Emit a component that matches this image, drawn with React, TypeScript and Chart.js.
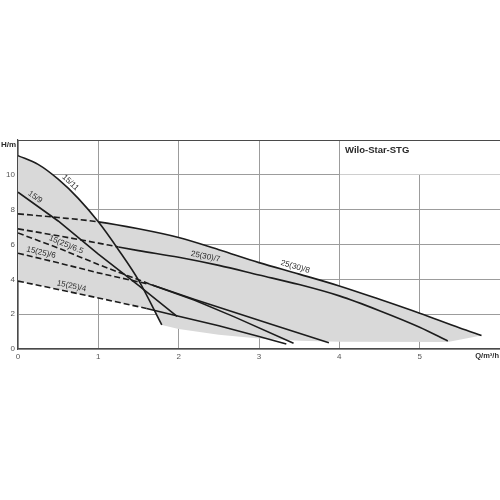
import React, { useEffect, useRef } from 'react';
import { Chart, registerables } from 'chart.js';

Chart.register(...registerables);

// ---- data ----
const xTicks = [0, 1, 2, 3, 4, 5, 6];
const yTicks = [0, 2, 4, 6, 8, 10, 12];
const xAxisTitle = 'Q/m³/h';
const yAxisTitle = 'H/m';
const chartTitle = 'Wilo-Star-STG';

const seriesNames = ['15/11', '15/9', '25(30)/8', '25(30)/7', '15(25)/6.5', '15(25)/6', '15(25)/4'];

const q15_11 = [0, 0.25, 0.5, 0.75, 1.0, 1.25, 1.5, 1.79];
const h15_11 = [11.1, 10.6, 9.75, 8.65, 7.3, 5.7, 3.95, 1.38];

const q15_9 = [0, 0.5, 1.0, 1.5, 1.98];
const h15_9 = [9.0, 7.35, 5.45, 3.65, 1.87];

const q25_8 = [0, 0.5, 1.0, 1.5, 2.0, 2.5, 3.0, 3.5, 4.0, 4.5, 5.0, 5.5, 5.77];
const h25_8 = [7.76, 7.55, 7.3, 6.9, 6.4, 5.7, 4.96, 4.3, 3.62, 2.85, 2.05, 1.2, 0.77];

const q25_7 = [0, 0.5, 1.0, 1.25, 1.5, 2.0, 2.5, 3.0, 3.5, 4.0, 4.5, 5.0, 5.35];
const h25_7 = [6.9, 6.5, 6.08, 5.86, 5.65, 5.27, 4.8, 4.25, 3.7, 3.05, 2.2, 1.25, 0.46];

const q15_65 = [0, 0.5, 1.0, 1.67, 2.2, 2.7, 3.43];
const h15_65 = [6.66, 5.8, 4.85, 3.68, 2.8, 1.83, 0.33];

const q15_6 = [0, 0.5, 1.0, 1.67, 2.2, 2.7, 3.2, 3.87];
const h15_6 = [5.5, 4.95, 4.37, 3.68, 2.84, 2.1, 1.35, 0.36];

const q15_4 = [0, 0.5, 1.0, 1.6, 2.0, 2.5, 3.0, 3.34];
const h15_4 = [3.9, 3.42, 2.93, 2.33, 1.88, 1.33, 0.72, 0.29];

// dashed up to this flow value
const dashUntil = [0, 0, 1.0, 1.25, 1.67, 1.67, 1.6];
// flow value where each curve label sits
const labelAt = [0.6, 0.17, 3.43, 2.32, 0.57, 0.27, 0.65];

// operating envelope (shaded)
const envQ = [0, 0.25, 0.5, 0.75, 1.0, 1.5, 2.0, 2.5, 3.0, 3.5, 4.0, 4.5, 5.0, 5.5, 5.77, 5.35, 4.0, 3.5, 3.0, 2.5, 2.0, 1.79, 1.69, 1.6, 1.0, 0.5, 0];
const envH = [11.1, 10.6, 9.75, 8.65, 7.3, 6.9, 6.4, 5.7, 4.96, 4.3, 3.62, 2.85, 2.05, 1.2, 0.77, 0.4, 0.42, 0.47, 0.6, 0.82, 1.15, 1.38, 2.22, 2.33, 2.93, 3.42, 3.9];

const seriesQ = [q15_11, q15_9, q25_8, q25_7, q15_65, q15_6, q15_4];
const seriesH = [h15_11, h15_9, h25_8, h25_7, h15_65, h15_6, h15_4];
const smooth = [true, false, true, true, false, false, false];

const FONT = '"Liberation Sans", Arial, sans-serif';
const LINE = '#1c1c1c';
const GRID = '#9c9c9c';
const AXIS = '#4a4a4a';

function interp(qs: number[], hs: number[], q: number): number {
  for (let i = 0; i < qs.length - 1; i++) {
    if (q >= qs[i] && q <= qs[i + 1]) {
      const t = (q - qs[i]) / (qs[i + 1] - qs[i]);
      return hs[i] + t * (hs[i + 1] - hs[i]);
    }
  }
  return hs[hs.length - 1];
}

const boxPlugin = {
  id: 'titleBox',
  beforeDatasetsDraw(chart: any) {
    const { ctx, chartArea, scales } = chart;
    const x4 = Math.round(scales.x.getPixelForValue(4));
    const y10 = Math.round(scales.y.getPixelForValue(10));
    ctx.save();
    ctx.fillStyle = '#ffffff';
    ctx.fillRect(x4 + 1, chartArea.top + 1, chartArea.right - x4 - 1, y10 - chartArea.top - 1.5);
    ctx.fillStyle = '#2a2a2a';
    ctx.font = `bold 9.5px ${FONT}`;
    ctx.textAlign = 'left';
    ctx.textBaseline = 'middle';
    ctx.fillText(chartTitle, x4 + 6, chartArea.top + 10);
    ctx.restore();
  },
};

const labelPlugin = {
  id: 'curveLabels',
  afterDatasetsDraw(chart: any) {
    const { ctx, chartArea, scales } = chart;
    const xs = scales.x;
    const ys = scales.y;
    ctx.save();
    ctx.fillStyle = '#2a2a2a';
    ctx.font = `8px ${FONT}`;
    ctx.textAlign = 'center';
    ctx.textBaseline = 'bottom';
    seriesNames.forEach((name, i) => {
      const qs = seriesQ[i];
      const hs = seriesH[i];
      const q = labelAt[i];
      const px = xs.getPixelForValue(q);
      const py = ys.getPixelForValue(interp(qs, hs, q));
      const ax = xs.getPixelForValue(q - 0.05);
      const ay = ys.getPixelForValue(interp(qs, hs, Math.max(0, q - 0.05)));
      const bx = xs.getPixelForValue(q + 0.05);
      const by = ys.getPixelForValue(interp(qs, hs, q + 0.05));
      const ang = Math.atan2(by - ay, bx - ax);
      ctx.save();
      ctx.translate(px, py);
      ctx.rotate(ang);
      ctx.fillText(name, 0, -2);
      ctx.restore();
    });
    // axis titles
    ctx.font = `bold 8px ${FONT}`;
    ctx.textBaseline = 'middle';
    ctx.textAlign = 'right';
    ctx.fillText(yAxisTitle, chartArea.left - 2, chartArea.top + 5);
    ctx.font = `bold 7.5px ${FONT}`;
    ctx.fillText(xAxisTitle, chartArea.right - 1, chartArea.bottom + 7);
    ctx.restore();
  },
};

export default function App() {
  const ref = useRef<HTMLCanvasElement | null>(null);

  useEffect(() => {
    if (!ref.current) return;
    const datasets: any[] = seriesNames.map((name, i) => ({
      label: name,
      data: seriesQ[i].map((q, j) => ({ x: q, y: seriesH[i][j] })),
      borderColor: LINE,
      borderWidth: 1.6,
      pointRadius: 0,
      fill: false,
      tension: 0,
      cubicInterpolationMode: smooth[i] ? 'monotone' : 'default',
      order: 0,
      segment: {
        borderDash: (c: any) => (c.p1.parsed.x <= dashUntil[i] + 1e-9 ? [6, 3] : []),
      },
    }));
    datasets.push({
      label: 'envelope',
      data: envQ.map((q, j) => ({ x: q, y: envH[j] })),
      borderColor: 'rgba(0,0,0,0)',
      borderWidth: 0,
      backgroundColor: '#d9d9d9',
      pointRadius: 0,
      fill: 'shape',
      tension: 0,
      order: 10,
    });

    const chart = new Chart(ref.current, {
      type: 'line',
      data: { datasets },
      options: {
        animation: false,
        responsive: false,
        maintainAspectRatio: false,
        layout: { autoPadding: false, padding: { top: 140, left: 0, right: 0, bottom: 0 } },
        plugins: {
          legend: { display: false },
          tooltip: { enabled: false },
          title: { display: false },
        },
        scales: {
          x: {
            type: 'linear',
            min: 0,
            max: 6,
            afterBuildTicks: (s: any) => {
              s.ticks = xTicks.map((v) => ({ value: v }));
            },
            afterFit: (s: any) => {
              s.height = 151;
            },
            ticks: {
              autoSkip: false,
              maxRotation: 0,
              padding: 0,
              color: '#555',
              font: { family: FONT, size: 8 },
              callback: (v: any) => (v === 6 ? '' : String(v)),
            },
            grid: {
              drawTicks: true,
              tickLength: 3,
              tickColor: 'rgba(0,0,0,0)',
              color: (c: any) => (c.tick && c.tick.value === 6 ? 'rgba(0,0,0,0)' : GRID),
              lineWidth: 1,
            },
            border: { display: true, color: AXIS, width: 1.2 },
          },
          y: {
            type: 'linear',
            min: 0,
            max: 12,
            afterBuildTicks: (s: any) => {
              s.ticks = yTicks.map((v) => ({ value: v }));
            },
            afterFit: (s: any) => {
              s.width = 18;
            },
            ticks: {
              autoSkip: false,
              padding: 3,
              color: '#555',
              font: { family: FONT, size: 8 },
              callback: (v: any) => (v === 12 ? '' : String(v)),
            },
            grid: {
              drawTicks: false,
              color: (c: any) => (c.tick && c.tick.value === 12 ? AXIS : GRID),
              lineWidth: 1,
            },
            border: { display: true, color: AXIS, width: 1.2 },
          },
        },
      } as any,
      plugins: [boxPlugin, labelPlugin],
    });
    return () => chart.destroy();
  }, []);

  return (
    <div style={{ position: 'absolute', left: 0, top: 0, width: 500, height: 500, background: '#fff' }}>
      <canvas ref={ref} width={500} height={500} style={{ width: 500, height: 500, display: 'block' }} />
    </div>
  );
}
